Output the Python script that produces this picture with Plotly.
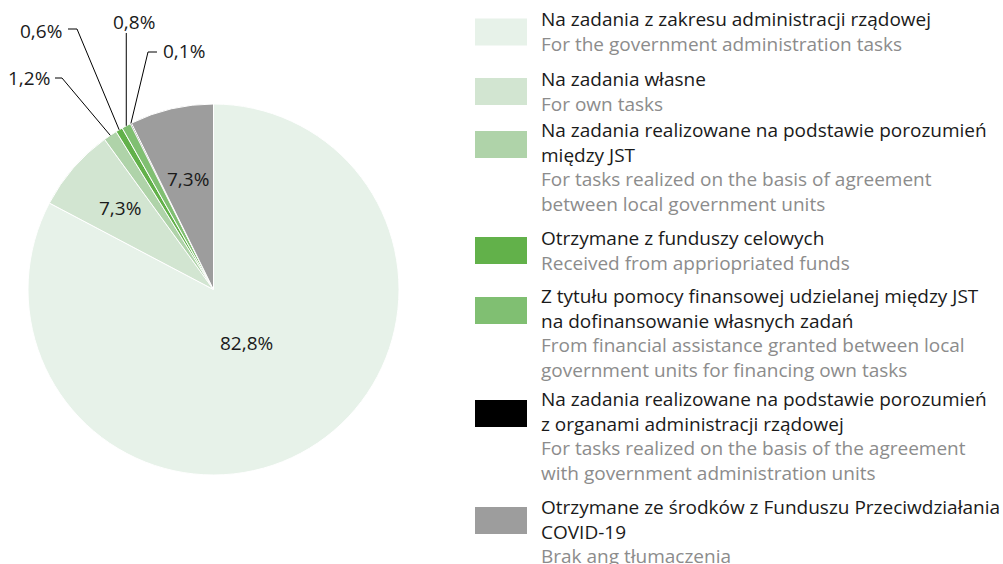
import math
import plotly.graph_objects as go

# ---- data ----
labels_pl = [
    ["Na zadania z zakresu administracji rządowej"],
    ["Na zadania własne"],
    ["Na zadania realizowane na podstawie porozumień", "między JST"],
    ["Otrzymane z funduszy celowych"],
    ["Z tytułu pomocy finansowej udzielanej między JST", "na dofinansowanie własnych zadań"],
    ["Na zadania realizowane na podstawie porozumień", "z organami administracji rządowej"],
    ["Otrzymane ze środków z Funduszu Przeciwdziałania", "COVID-19"],
]
labels_en = [
    ["For the government administration tasks"],
    ["For own tasks"],
    ["For tasks realized on the basis of agreement", "between local government units"],
    ["Received from appriopriated funds"],
    ["From financial assistance granted between local", "government units for financing own tasks"],
    ["For tasks realized on the basis of the agreement", "with government administration units"],
    ["Brak ang tłumaczenia"],
]
values = [82.8, 7.3, 1.2, 0.6, 0.8, 0.1, 7.3]
pct_text = ["82,8%", "7,3%", "1,2%", "0,6%", "0,8%", "0,1%", "7,3%"]

# ---- style ----
colors = ["#e7f2e9", "#d2e5d1", "#afd3a9", "#62b14a", "#80bf72", "#000000", "#9d9d9d"]
FONT = "Open Sans"
FS = 19
W, H = 1003, 564
CX, CY, R = 213.5, 289.5, 185.5

def px(x):
    return x / W

def py(y):
    return 1 - y / H

# label placement: inside (radial fraction) or outside (elbow, end, text pos, anchor)
inside_frac = {0: 0.34, 1: 0.67, 6: 0.61}
outside = {
    2: dict(elbow=(62, 78), end=(55, 78), text=(52, 78), anchor="right"),
    3: dict(elbow=(77, 29), end=(68, 29), text=(64, 31), anchor="right"),
    4: dict(elbow=None, end=(None, 33), text=(134, 22), anchor="center"),
    5: dict(elbow=(148, 52), end=(157, 52), text=(161, 51), anchor="left"),
}

fig = go.Figure()
fig.add_trace(go.Pie(
    values=values,
    labels=[" ".join(l) for l in labels_pl],
    sort=False,
    direction="clockwise",
    rotation=0,
    marker=dict(colors=colors, line=dict(color="white", width=1)),
    textinfo="none",
    showlegend=False,
    hole=0,
    domain=dict(x=[px(CX - R), px(CX + R)], y=[py(CY + R), py(CY - R)]),
))

annotations = []
shapes = []
total = sum(values)
cum = 0.0
for i, v in enumerate(values):
    mid = (cum + v / 2) / total * 2 * math.pi
    cum += v
    s, c = math.sin(mid), math.cos(mid)
    if i in inside_frac:
        f = inside_frac[i] * R
        annotations.append(dict(x=px(CX + f * s), y=py(CY - f * c), xref="paper", yref="paper",
                                text=pct_text[i], showarrow=False, xanchor="center", yanchor="middle",
                                font=dict(family=FONT, size=FS, color="#1a1a1a")))
    else:
        o = outside[i]
        ax, ay = CX + R * s, CY - R * c
        pts = [(ax, ay)]
        if o["elbow"] is not None:
            pts.append(o["elbow"])
            pts.append(o["end"])
        else:
            pts.append((ax, o["end"][1]))
        path = "M " + " L ".join(f"{px(x):.5f},{py(y):.5f}" for x, y in pts)
        shapes.append(dict(type="path", path=path, xref="paper", yref="paper",
                           line=dict(color="black", width=1)))
        annotations.append(dict(x=px(o["text"][0]), y=py(o["text"][1]), xref="paper", yref="paper",
                                text=pct_text[i], showarrow=False, xanchor=o["anchor"], yanchor="middle",
                                font=dict(family=FONT, size=FS, color="#1a1a1a")))

# ---- custom legend ----
block_start = [20, 79.5, 132.5, 238.5, 298.5, 401.5, 508.5]
LINE = 23.3
RECT_X0, RECT_X1, RECT_H = 475, 527, 27
TEXT_X = 540
for i in range(len(values)):
    y0 = block_start[i]
    shapes.append(dict(type="rect", xref="paper", yref="paper",
                       x0=px(RECT_X0), x1=px(RECT_X1), y0=py(y0 - 1.5), y1=py(y0 - 1.5 + RECT_H),
                       fillcolor=colors[i], line=dict(width=0)))
    parts = [f"<span style='color:#1a1a1a'>{t}</span>" for t in labels_pl[i]] + \
            [f"<span style='color:#8c8c8c'>{t}</span>" for t in labels_en[i]]
    n = len(parts)
    yc = y0 + (n - 1) * LINE / 2
    annotations.append(dict(x=px(TEXT_X), y=py(yc), xref="paper", yref="paper",
                            text="<br>".join(parts), showarrow=False, xanchor="left", yanchor="middle",
                            align="left", borderpad=0,
                            font=dict(family=FONT, size=FS, color="#1a1a1a")))

fig.update_layout(
    width=W, height=H,
    margin=dict(l=0, r=0, t=0, b=0),
    paper_bgcolor="white", plot_bgcolor="white",
    annotations=annotations, shapes=shapes,
    font=dict(family=FONT),
)
fig.write_html("out.html", config={"displayModeBar": False},
               post_script="document.body.style.margin='0';")
